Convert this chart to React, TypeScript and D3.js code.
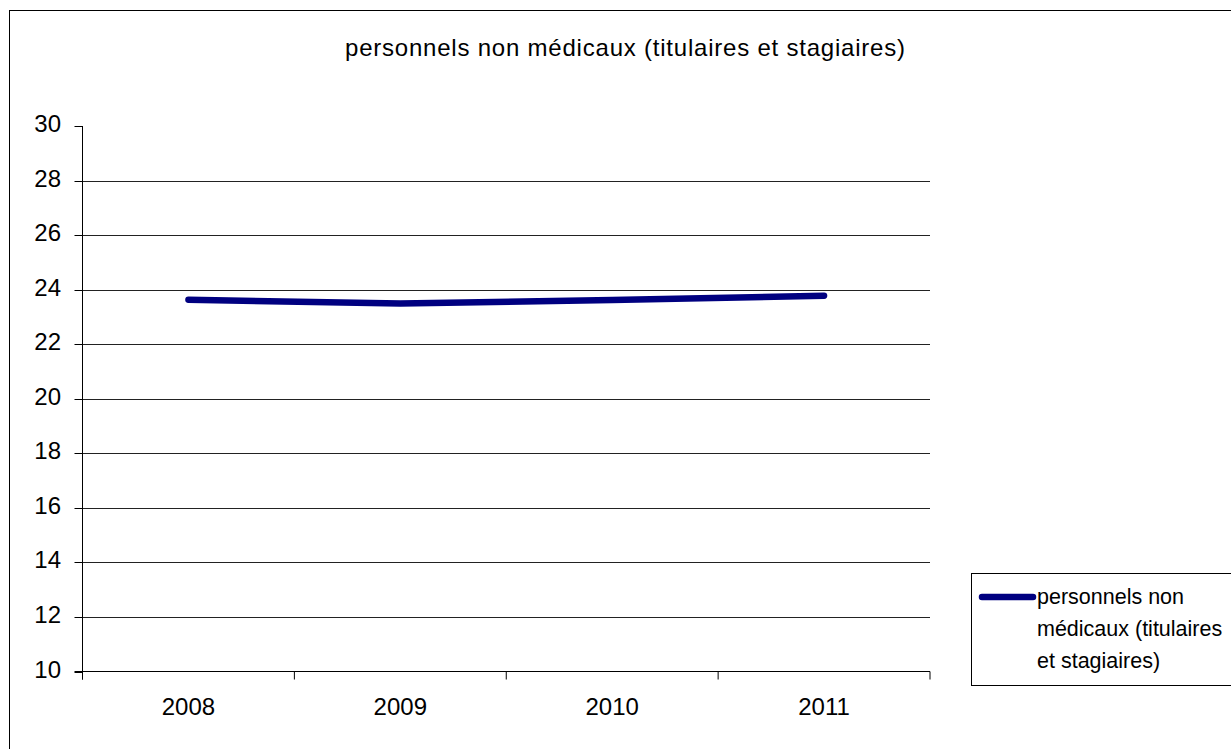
import React from "react";
import * as d3 from "d3";

const categories = ["2008", "2009", "2010", "2011"];
const seriesName = "personnels non médicaux (titulaires et stagiaires)";
const values = [23.63, 23.49, 23.62, 23.78];
const yTicks = [10, 12, 14, 16, 18, 20, 22, 24, 26, 28, 30];
const legendLines = ["personnels non", "médicaux (titulaires", "et stagiaires)"];

const W = 1231;
const H = 749;
const plot = { left: 82.5, right: 930, top: 126, bottom: 671.5 };
const font = "'Liberation Sans', Arial, sans-serif";

export default function App() {
  const x = d3.scaleBand<string>().domain(categories).range([plot.left, plot.right]);
  const y = d3.scaleLinear().domain([10, 30]).range([plot.bottom, plot.top]);
  const line = d3
    .line<number>()
    .x((_, i) => (x(categories[i]) as number) + x.bandwidth() / 2)
    .y((d) => y(d));
  const boundaries = d3.range(categories.length + 1).map((i) => plot.left + i * x.step());

  return (
    <svg
      width={W}
      height={H}
      style={{ position: "absolute", left: 0, top: 0, background: "#fff" }}
      fontFamily={font}
    >
      <rect x={9.5} y={10.5} width={1300} height={900} fill="#fff" stroke="#000" strokeWidth={1} />
      <text x={625} y={56} textAnchor="middle" fontSize={24} textLength={560} lengthAdjust="spacing" fill="#000">
        {seriesName}
      </text>
      {yTicks.map((t) => (
        <g key={t}>
          {t !== 10 && t !== 30 && (
            <line x1={plot.left} x2={plot.right} y1={Math.round(y(t)) + 0.5} y2={Math.round(y(t)) + 0.5} stroke="#222" strokeWidth={1} />
          )}
          <line x1={plot.left - 8} x2={plot.left} y1={Math.round(y(t)) + 0.5} y2={Math.round(y(t)) + 0.5} stroke="#000" />
          <text x={61} y={y(t) + 6} textAnchor="end" fontSize={24} fill="#000">
            {t}
          </text>
        </g>
      ))}
      <line x1={plot.left} x2={plot.left} y1={plot.top} y2={plot.bottom + 8} stroke="#000" />
      <line x1={plot.left - 8} x2={plot.right} y1={plot.bottom} y2={plot.bottom} stroke="#000" />
      {boundaries.map((bx, i) => (
        <line key={i} x1={bx} x2={bx} y1={plot.bottom} y2={plot.bottom + 8} stroke="#000" />
      ))}
      {categories.map((c) => (
        <text key={c} x={(x(c) as number) + x.bandwidth() / 2} y={715} textAnchor="middle" fontSize={24} fill="#000">
          {c}
        </text>
      ))}
      <path d={line(values) || ""} fill="none" stroke="#000080" strokeWidth={6.5} strokeLinecap="round" strokeLinejoin="round" />
      <rect x={971.5} y={573.5} width={300} height={112} fill="#fff" stroke="#000" />
      <line x1={982} x2={1033} y1={597} y2={597} stroke="#000080" strokeWidth={6.5} strokeLinecap="round" />
      {legendLines.map((l, i) => (
        <text key={i} x={1037} y={604 + i * 32} fontSize={21.5} fill="#000">
          {l}
        </text>
      ))}
    </svg>
  );
}
